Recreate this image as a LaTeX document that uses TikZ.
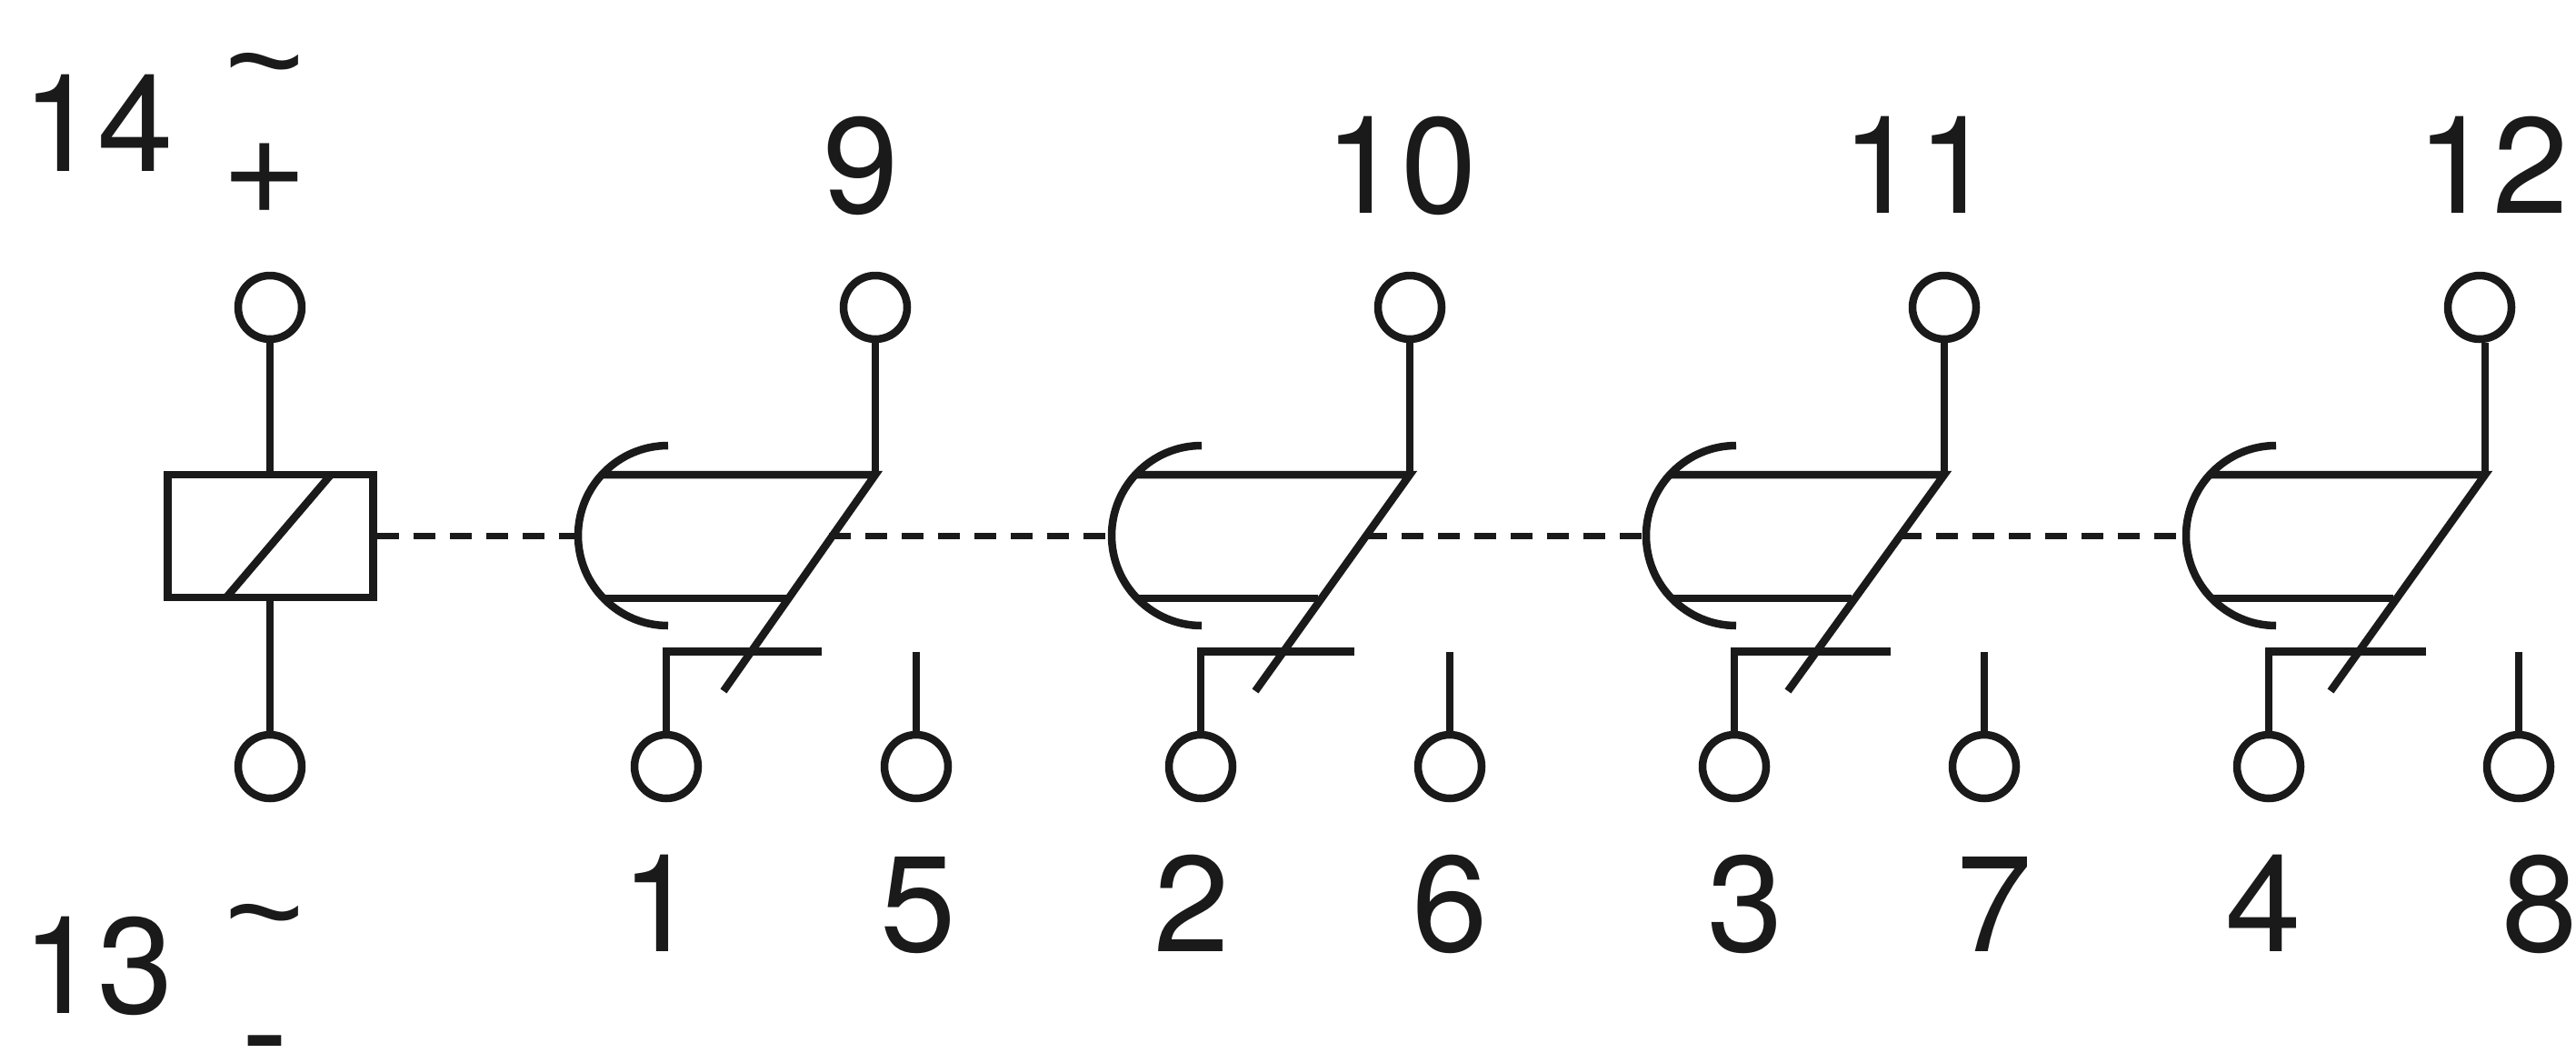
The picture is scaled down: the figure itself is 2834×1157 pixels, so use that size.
\documentclass[tikz,border=0pt]{standalone}
\usepackage{fontspec}
\setmainfont{TeX Gyre Heros}
\newfontfamily\symfont{Liberation Sans}
\usetikzlibrary{calc}
\definecolor{ink}{HTML}{1A1A1A}
\tikzset{
  x=1pt,y=-1pt,
  term/.style={circle,draw=ink,line width=8.5pt,minimum size=70pt,inner sep=0pt,fill=white},
  wire/.style={draw=ink,line width=8.5pt},
  dash link/.style={draw=ink,line width=7pt,dash pattern=on 24pt off 16pt},
  lab/.style={text=ink,font=\fontsize{150}{150}\selectfont,inner sep=0pt,anchor=base},
  sym/.style={lab,font=\fontsize{150}{150}\selectfont\symfont},
}
\begin{document}
\begin{tikzpicture}
\useasboundingbox[fill=white] (0,0) rectangle (2834,1157);
% coil
\node[term] (ct) at (297,338) {};
\node[term] (cb) at (297,843) {};
\node[draw=ink,line width=8.5pt,minimum width=226pt,minimum height=135pt,inner sep=0pt] (coil) at (297.5,589.5) {};
\coordinate (d1) at (249,657);
\coordinate (d2) at (364,522);
\draw[wire] (d1) -- (d2);
\draw[wire] (ct) -- (ct |- coil.north);
\draw[wire] (cb) -- (cb |- coil.south);
% contacts
\foreach \n/\tx/\ttx/\lft/\tl/\bl/\diag/\nc/\barr/\no in {
  1/963/963/636/664/867/796/733/904/1008,
  2/1551/1551/1223/1251/1450/1381/1321/1490/1595,
  3/2139/2139/1811/1839/2037/1967/1908/2080/2183,
  4/2734/2728/2405/2433/2633/2564/2496/2669/2771}{
  \node[term] (top\n) at (\ttx,338) {};
  \node[term] (nc\n) at (\nc,843) {};
  \node[term] (no\n) at (\no,843) {};
  \coordinate (p\n) at (\tx,522);
  \coordinate (low\n) at (\diag,760);
  \coordinate (hitop\n) at (\tl,522);
  \coordinate (hibot\n) at (\tl,658);
  \coordinate (hibotr\n) at (\bl,658);
  \coordinate (arcA\n) at ($(\lft,490)+(99,0)$);
  \coordinate (arcB\n) at (\lft,589);
  \coordinate (bar\n) at (\nc,716.5);
  \coordinate (barr\n) at (\barr,716.5);
  \coordinate (stub\n) at (\no,716.5);
  \draw[wire] (\tx,500 |- top\n.south) -- (p\n);
  \draw[wire] (hitop\n) -- (p\n) -- (low\n);
  \draw[wire] (hibot\n) -- (hibotr\n);
  \draw[wire] (arcA\n) arc[start angle=90,end angle=270,radius=99pt];
  \draw[wire] (nc\n) -- (bar\n) -- (barr\n);
  \draw[wire] (no\n) -- (stub\n);
}
\coordinate (mid1) at (912,589);
\coordinate (mid2) at (1502,589);
\coordinate (mid3) at (2090,589);
\draw[dash link] (coil.east |- arcB1) -- (arcB1);
\draw[dash link] (mid1) -- (arcB2);
\draw[dash link] (mid2) -- (arcB3);
\draw[dash link] (mid3) -- (arcB4);
% labels
\node[lab] (l14) at (108,188) {14};
\node[lab] (l13) at (108,1114) {13};
\node[sym] (t1) at (291,117) {\char"007E};
\node[sym] (plus) at (291,244) {+};
\node[sym] (t2) at (291,1053) {\char"007E};
\node[sym] (minus) at (291,1184) {-};
\node[lab] (l9) at (947,234) {9};
\node[lab] (l10) at (1541,234) {10};
\node[lab] (l11) at (2110,234) {11};
\node[lab] (l12) at (2742,234) {12};
\node[lab] (l1) at (725,1046) {1};
\node[lab] (l5) at (1010,1046) {5};
\node[lab] (l2) at (1311,1046) {2};
\node[lab] (l6) at (1595,1046) {6};
\node[lab] (l3) at (1920,1046) {3};
\node[lab] (l7) at (2194,1046) {7};
\node[lab] (l4) at (2490,1046) {4};
\node[lab] (l8) at (2794,1046) {8};
\end{tikzpicture}
\end{document}
